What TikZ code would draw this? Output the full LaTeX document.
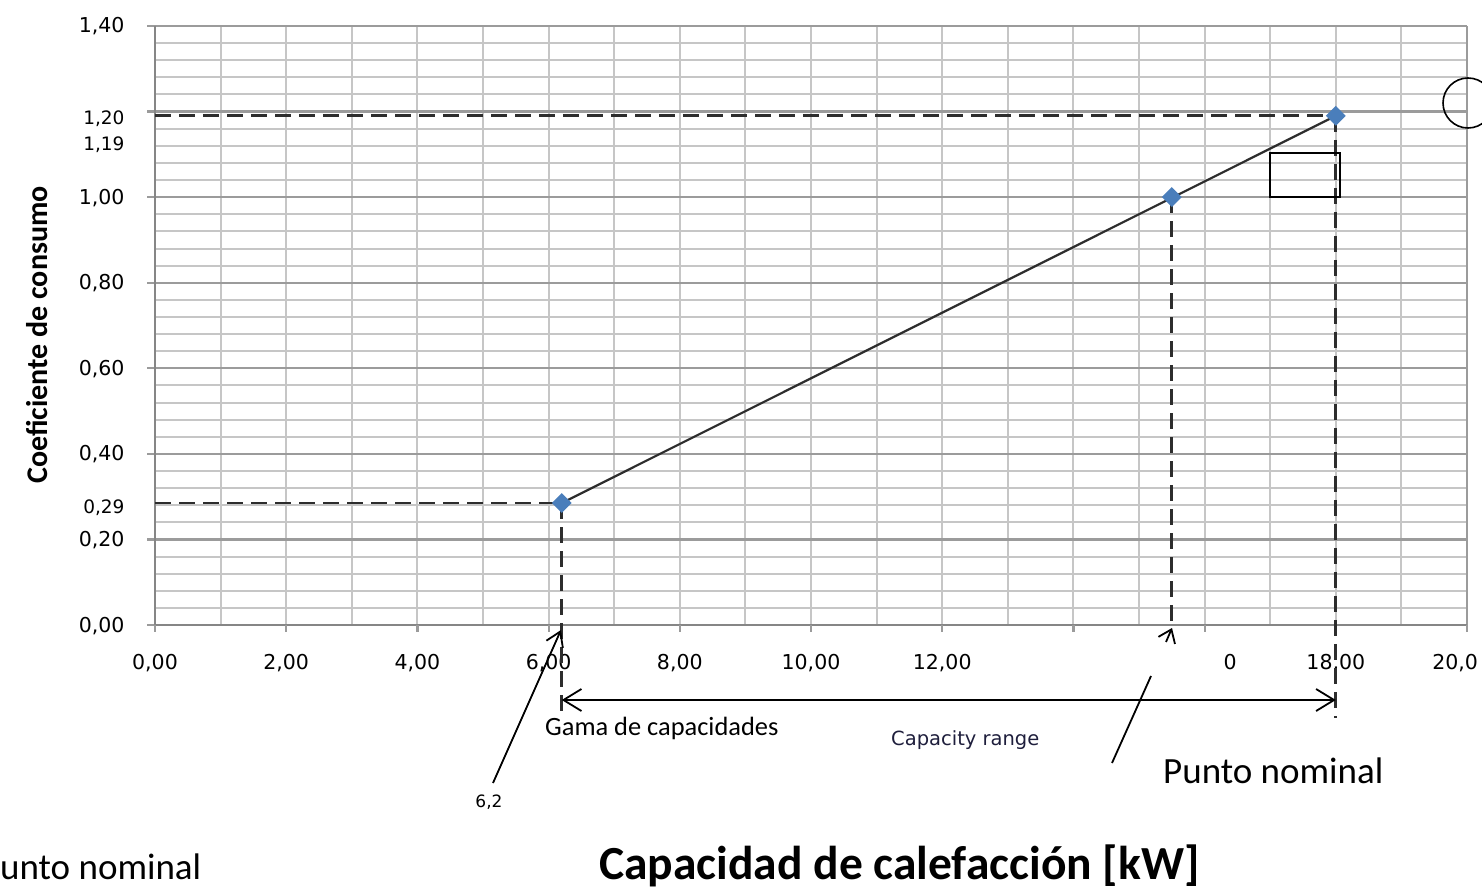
\documentclass[tikz,border=0pt]{standalone}
\usepackage{fontspec}
\setmainfont{Carlito}
\newfontfamily\tickfont{DejaVu Sans}
\usetikzlibrary{arrows.meta,shapes.geometric}
\definecolor{minorgray}{RGB}{198,198,198}
\definecolor{majorgray}{RGB}{155,155,155}
\definecolor{axisgray}{RGB}{134,134,134}
\definecolor{guidegray}{RGB}{45,45,45}
\definecolor{markblue}{RGB}{74,126,187}
\definecolor{rangetext}{RGB}{30,30,60}

\begin{document}
\begin{tikzpicture}[x=1pt,y=-1pt,
    minorgrid/.style={draw=minorgray,line width=2pt},
    majorgrid/.style={draw=majorgray,line width=2.2pt},
    axisline/.style={draw=axisgray,line width=2.4pt},
    guide/.style={draw=guidegray,line width=2.8pt,dash pattern=on 16pt off 8pt},
    marker/.style={diamond,fill=markblue,inner sep=0pt,minimum size=20pt},
    xlab/.style={font=\tickfont\fontsize{20.5}{24}\selectfont,anchor=base,yshift=-44pt},
    ylab/.style={font=\tickfont\fontsize{20.5}{24}\selectfont,anchor=base east,xshift=-27pt,yshift=-7pt},
    ylabsmall/.style={ylab,font=\tickfont\fontsize{18.5}{22}\selectfont,yshift=-6pt},
    label/.style={anchor=base west,inner sep=0pt},
    pointer/.style={draw=black,line width=1.8pt},
  ]
  \useasboundingbox (0,0) rectangle (1482,893);
  \clip (0,0) rectangle (1482,893);

  % Diagrama (kW, coeficiente)
  \begin{scope}[shift={(155,625)},x=65.6pt,y=427.9pt]
    \coordinate (o) at (0,0);
    % Rejilla
    \draw[minorgrid,xstep=1,ystep=0.04] (0,0) grid (20,1.4);
    \draw[majorgrid,xstep=20,ystep=0.2] (-0.12,0) grid (20,1.4);
    % Ejes
    \draw[axisline] (0,1.4) -- (o) -- (20,0);
    \foreach \u in {0,2,...,20}
      \draw[majorgrid] (\u,0) -- (\u,-0.017);
    % Etiquetas eje x
    \node[xlab] (x0) at (0,0) {0,00};
    \node[xlab] (x2) at (2,0) {2,00};
    \node[xlab] (x4) at (4,0) {4,00};
    \node[xlab] (x6) at (6,0) {6,00};
    \node[xlab] (x8) at (8,0) {8,00};
    \node[xlab] (x10) at (10,0) {10,00};
    \node[xlab] (x12) at (12,0) {12,00};
    \node[xlab] (x16) at (16.39,0) {0};
    \node[xlab] (x18) at (18,0) {18,00};
    \node[xlab,anchor=base east,xshift=14.5pt] (x20) at (20,0) {20,0};
    % Etiquetas eje y
    \node[ylab] (y140) at (0,1.4) {1,40};
    \node[ylabsmall] (y120) at (0,1.2) {1,20};
    \node[ylabsmall] (y119) at (0,1.14) {1,19};
    \node[ylab] (y100) at (0,1.0) {1,00};
    \node[ylab] (y080) at (0,0.8) {0,80};
    \node[ylab] (y060) at (0,0.6) {0,60};
    \node[ylab] (y040) at (0,0.4) {0,40};
    \node[ylabsmall] (y029) at (0,0.29) {0,29};
    \node[ylab] (y020) at (0,0.2) {0,20};
    \node[ylab] (y000) at (0,0) {0,00};
    % Puntos
    \coordinate (p1) at (6.2,0.285);
    \coordinate (p2) at (15.5,1.0);
    \coordinate (p3) at (18,1.19);
    % Lineas de referencia (discontinuas)
    \draw[guide] (p1 -| o) -- (p1);
    \draw[guide] (p3 -| o) -- (p3);
    \draw[guide] (p1) -- (6.2,-0.203);
    \draw[guide] (p2) -- (p2 |- o);
    \draw[guide] (p3) -- (18,-0.217);
    % Recta
    \draw[guidegray,line width=2.2pt] (p1) -- (p3);
    \node[marker] (m1) at (p1) {};
    \node[marker] (m2) at (p2) {};
    \node[marker] (m3) at (p3) {};
  \end{scope}

  % Gama de capacidades
  \coordinate (rng) at (0,700);
  \draw[pointer,{Straight Barb[length=18pt,width=22pt]}-{Straight Barb[length=18pt,width=22pt]}]
    (p1 |- rng) -- (p3 |- rng);
  \node[label,font=\fontsize{26.4}{30}\selectfont] (gama) at (545,735) {Gama de capacidades};
  \node[label,font=\tickfont\fontsize{19.5}{23}\selectfont,text=rangetext] (caprange) at (891,745) {Capacity range};

  % Flechas
  \node[font=\tickfont\fontsize{17}{20}\selectfont] (v62) at (489,802) {6,2};
  \coordinate (a62) at (493,783);
  \coordinate (t62) at (561,630);
  \draw[pointer,-{Straight Barb[length=14pt,width=18pt]}] (a62) -- (t62);
  \coordinate (a0) at (1112,763);
  \coordinate (a1) at (1151,676);
  \coordinate (a2) at (1166,642);
  \coordinate (a3) at (1172,628);
  \draw[pointer] (a0) -- (a1);
  \draw[pointer,-{Straight Barb[length=12pt,width=18pt]}] (a2) -- (a3);
  \node[label,font=\fontsize{37}{44}\selectfont] (pnom) at (1163,783) {Punto nominal};
  \node[label,font=\fontsize{37}{44}\selectfont] (pnom2) at (0,879) {unto nominal};

  % Rectangulo y circulo
  \draw[black,line width=1.6pt] (1270,153) rectangle (1340,197);
  \draw[black,line width=1.6pt] (1468,103) circle[radius=25pt];

  % Titulos
  \node[label,font=\bfseries\fontsize{47.5}{56}\selectfont] (xtitle) at (599,879) {Capacidad de calefacción [kW]};
  \node[anchor=base,inner sep=0pt,rotate=90,font=\bfseries\fontsize{30}{36}\selectfont] (ytitle) at (47,335) {Coeficiente de consumo};
\end{tikzpicture}
\end{document}
